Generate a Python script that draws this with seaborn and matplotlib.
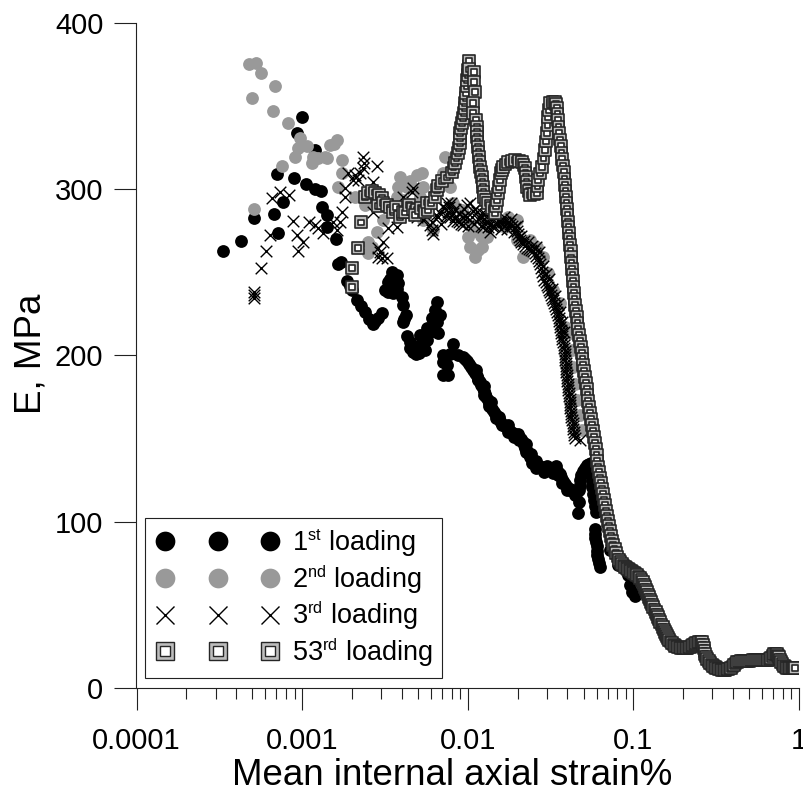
import matplotlib
matplotlib.use('agg')
import matplotlib.pyplot as plt
import numpy as np
import pandas as pd
import seaborn as sns
import matplotlib._mathtext as mathtext_internals
from matplotlib.lines import Line2D
from matplotlib.legend_handler import HandlerTuple, HandlerLine2D
from matplotlib.ticker import FixedLocator, FixedFormatter, NullFormatter

# values as (strain %, E MPa), in loading order
loading_1 = [
    (.000333, 262.8), (.000428, 268.8), (.000512, 282.6), (.000677, 285), (.000715, 273.6), (.000768, 292.2),
    (.000706, 309), (.000893, 306.7), (.001, 343.3), (.00093, 333.7), (.0012, 323.5), (.00106, 303), (.0012, 300),
    (.0013, 298.9), (.00132, 289.2), (.00141, 284.4), (.00141, 277.2), (.0016, 270), (.00165, 255), (.00172, 256.2),
    (.00187, 244.8), (.00195, 241.5), (.002, 239.4), (.00215, 233.3), (.00228, 229.5), (.0024, 226), (.00255, 222),
    (.00268, 218.9), (.00277, 220.5), (.00287, 222.5), (.00304, 225.5), (.00349, 250.2), (.00374, 248.4),
    (.0034, 246), (.0033, 244.2), (.00379, 243.6), (.00317, 239.4), (.0033, 238), (.00354, 237.6), (.00375, 240),
    (.00401, 235.2), (.00407, 230.4), (.00424, 224.3), (.00415, 222), (.00407, 220.1),
    (.00652, 232.2), (.00635, 227.3), (.0068, 224.3), (.00609, 222.5), (.0065, 220), (.00617, 218.3), (.00662, 213.5),
    (.00567, 216.5), (.0059, 214), (.00515, 212.3), (.0054, 210), (.0043, 211.7), (.00567, 209.3), (.0052, 207),
    (.0045, 208), (.00449, 204.5), (.00552, 203.3), (.0047, 202), (.00487, 200.9), (.00494, 205.1), (.0051, 201.5),
    (.00815, 206.9), (.00709, 200.3), (.00709, 196.1), (.0075, 194.3), (.00709, 188.3), (.00761, 188.3),
    (.0078, 201), (.00874, 200.3), (.00937, 199.1), (.00965, 198), (.00992, 196.7), (.0102, 195), (.01047, 193.1),
    (.0108, 191.3), (.0112, 191), (.01107, 189.5), (.0113, 187.7), (.0115, 185), (.01154, 185.9), (.0118, 184.1),
    (.01203, 182.3), (.0123, 180.5), (.0125, 181.5), (.0125, 176.5), (.01254, 178.7), (.0127, 176.9), (.0129, 175),
    (.0132, 173.3), (.0135, 169.5), (.0138, 172), (.01345, 171.5), (.0137, 169.7), (.01402, 167.9), (.0144, 166.1),
    (.0148, 162.5), (.01482, 164.3), (.0152, 162.4), (.0155, 163), (.016, 158), (.01567, 160.6), (.0162, 159.1),
    (.0168, 157.6), (.0174, 156.1), (.0175, 154), (.0175, 158), (.018, 154.6), (.0188, 153.4), (.019, 151),
    (.01958, 152.2), (.02, 153), (.0203, 151), (.0205, 149), (.021, 149.8), (.0215, 148), (.02188, 146.2),
    (.0223, 144.4), (.0225, 142), (.0225, 147), (.0228, 142.6), (.0233, 140.8), (.0238, 139), (.024, 141),
    (.0244, 137.5), (.0245, 135.5), (.0251, 136), (.026, 134.8), (.026, 132.5), (.026, 136.5), (.027, 133.6),
    (.0281, 132.7), (.029, 130), (.0293, 131.8), (.03, 133.5), (.0305, 131.5), (.0318, 131.2), (.0325, 129.5),
    (.0329, 131.2), (.034, 133.5), (.0341, 131.2), (.035, 128), (.0351, 130), (.0361, 128.8), (.0368, 126.7),
    (.037, 123.5), (.0376, 124.6), (.0387, 122.8), (.0398, 121), (.04, 119), (.0412, 119.8), (.0426, 118.6),
    (.0441, 118.3), (.0445, 116), (.0457, 118), (.047, 112), (.0463, 105.4), (.047, 119.2),
    (.0473, 122), (.0476, 125.2), (.0486, 128), (.0497, 130.6), (.0511, 132.5), (.0525, 134.2), (.054, 135),
    (.0556, 135.4), (.056, 132), (.0563, 128.2), (.0563, 124.5), (.0563, 121), (.0571, 117), (.0579, 113.2),
    (.0587, 109.5), (.0596, 106), (.0587, 95.7), (.0587, 93), (.0587, 90.3), (.0595, 88), (.0603, 85.5), (.0603, 82.7),
    (.0603, 80.1), (.0612, 77.5), (.062, 75.3), (.063, 72.9), (.0723, 83.1), (.0809, 74), (.0915, 73.5), (.0929, 68),
    (.0955, 62), (.0982, 57.9), (.1024, 55.5),
]

loading_2 = [
    (.000478, 375.2), (.000527, 375.8), (.000565, 369.8), (.000686, 362), (.000498, 354.7), (.000668, 346.9),
    (.000822, 339.7), (.000512, 288), (.000756, 313.9), (.000975, 330.7), (.00107, 325.9), (.000944, 324.7),
    (.000905, 319.3), (.00116, 319.3), (.00115, 315.7), (.00125, 318.7), (.00138, 319.3), (.00141, 318.7),
    (.00147, 326.5), (.00155, 327), (.00162, 329.5), (.00174, 317.5), (.00174, 309.7), (.00165, 301.3), (.00209, 295.3),
    (.0024, 290.5), (.00283, 274.2), (.0025, 268.2), (.0025, 261.6), (.00265, 265), (.00308, 281.4), (.00349, 287.4),
    (.0039, 307.3), (.00379, 301.3), (.00374, 295.3), (.0043, 301.3), (.00494, 308.5), (.00467, 300.7), (.00407, 293.5),
    (.00445, 305), (.00537, 281.4), (.00617, 275.4), (.0053, 309.7), (.00537, 301.3), (.00515, 295.3), (.0073, 319.3),
    (.00709, 309.7), (.00782, 301.3), (.00815, 291.7), (.00925, 287.4), (.01, 271.2), (.0103, 265), (.01107, 259.2),
    (.0122, 265.2), (.01308, 271.2), (.01237, 281.4), (.0103, 278.5), (.01154, 263.4), (.0109, 275), (.012, 272),
    (.01751, 283.2), (.0168, 277.2), (.01985, 281.4), (.0216, 259.2), (.01985, 269.4), (.0238, 269.4),
    (.0262, 265.2), (.0285, 259.2), (.0305, 249.5), (.0328, 239.4), (.0361, 231.6), (.0387, 217.3), (.0415, 213.5),
    (.0426, 203.3), (.0432, 193.1), (.0444, 182.9), (.0457, 173.3), (.0476, 164.3), (.049, 155.2),
]

loading_3 = [
    (.000512, 238.2), (.000512, 236.4), (.000512, 234.6), (.000565, 252.6), (.000605, 262.8), (.000641, 272.4),
    (.000658, 294.7), (.000736, 298.3), (.000832, 296.5), (.000882, 280.8), (.00093, 272.4), (.00101, 268.2),
    (.000944, 262.8), (.0011, 280.2), (.0012, 278.4), (.00125, 276.6), (.00134, 273.6), (.00154, 280.2), (.00174, 286.2),
    (.00169, 280.2), (.00162, 275.4), (.00233, 319.3), (.00237, 315.7), (.00233, 312.7), (.00283, 313.9), (.00189, 309.7),
    (.00209, 308.5), (.00224, 309.7), (.00203, 305.5), (.00268, 304.3), (.00218, 305.5), (.00182, 300.7), (.00182, 295.3),
    (.00268, 286.2), (.00308, 268.2), (.00287, 264.6), (.00287, 259.2), (.00326, 258.6), (.00304, 258.6), (.00295, 262),
    (.0033, 276.6), (.00374, 277.2), (.00407, 295.3), (.00461, 298.3), (.00467, 300.7), (.00494, 283.2), (.00537, 281.4),
    (.00609, 275.4), (.00592, 278.4), (.0062, 273), (.0068, 285.6), (.0075, 291.7), (.00815, 285.6), (.00609, 280),
    (.00644, 284.4), (.0066, 283), (.0069, 279), (.0071, 290), (.0072, 288.6), (.0074, 284), (.00761, 286.2),
    (.0077, 289), (.0078, 283), (.00794, 291.7), (.0081, 281), (.00837, 283.2), (.0084, 288), (.0086, 281),
    (.0088, 285), (.00887, 280.2), (.0091, 279), (.0093, 283), (.00937, 278.4), (.0095, 288), (.0096, 284),
    (.0099, 283), (.00992, 290.5), (.0101, 278), (.0103, 291.7), (.0106, 283.2), (.0107, 287), (.0109, 279),
    (.011, 288), (.01138, 286.2), (.0115, 282), (.01187, 282.6), (.012, 278), (.0122, 285.6), (.0124, 277),
    (.0125, 282), (.0127, 285), (.0129, 280.2), (.0133, 277), (.01364, 274.2), (.01364, 279), (.0139, 282),
    (.014, 278), (.01442, 277.8), (.0147, 283), (.01503, 279.6), (.0155, 280), (.0158, 276), (.01589, 280.2),
    (.0163, 280), (.0165, 283), (.0168, 280.2), (.0172, 276), (.0174, 279.5), (.018, 279), (.0183, 282), (.0186, 278),
    (.019, 274), (.0193, 277.2), (.0197, 275), (.0199, 278), (.0201, 273), (.0204, 271), (.0207, 269.4), (.021, 272),
    (.0211, 268), (.0216, 267), (.022, 269), (.0222, 265.7), (.0228, 264.6), (.023, 268), (.0234, 264), (.0241, 263.4),
    (.0245, 266), (.0248, 262.5), (.0255, 261.6), (.0258, 265), (.026, 260), (.0266, 258.6), (.0268, 262), (.027, 256.8),
    (.0273, 255), (.0277, 252.6), (.0281, 250.2), (.0285, 254), (.0285, 247.8), (.0289, 245.4), (.0295, 243.9),
    (.0296, 249), (.0301, 242.4), (.0305, 240.9), (.0308, 246), (.031, 239.4), (.0314, 237.9), (.0318, 236.4),
    (.0322, 240), (.0323, 234.8), (.0328, 233.3), (.0332, 231.5), (.0335, 236), (.0337, 229.7), (.0341, 227.9),
    (.0346, 226.1), (.035, 231), (.0351, 224.3), (.0356, 222.5), (.0358, 220.7), (.0361, 218.9), (.0362, 226),
    (.0363, 217.1), (.0366, 215.3), (.0368, 213.5), (.0371, 211.7), (.0372, 220), (.0373, 209.9), (.0376, 208.1),
    (.0379, 206.3), (.0382, 204.5), (.0383, 214), (.0384, 202.7),
    (.0387, 200.9), (.0387, 199.1), (.0387, 197.3), (.039, 195.5), (.0392, 193.7), (.0392, 191.9), (.0392, 190.1),
    (.0395, 188.3), (.0398, 186.5), (.04, 184.7), (.0403, 182.9), (.0403, 181.1), (.0403, 179.3), (.0406, 177.5),
    (.0409, 175.7), (.0412, 173.9), (.0415, 172), (.0415, 170.2), (.0415, 168.4), (.0418, 166.6), (.0421, 164.8),
    (.0423, 163), (.0426, 161.2), (.0429, 159.4), (.0432, 157.6), (.0435, 155.8), (.0438, 154), (.0441, 152.2),
    (.0444, 150.4), (.0476, 149),
]

loading_53 = [
    (.002, 241), (.002, 252.6), (.00218, 264.6), (.00227, 280), (.0024, 295.3), (.0025, 297.7), (.00264, 298.9),
    (.00276, 298), (.00291, 296.5), (.00304, 295), (.00287, 290), (.00308, 291.7), (.00326, 290.5), (.00339, 289),
    (.00354, 286), (.00369, 289.3), (.0039, 283), (.00407, 286.3), (.00418, 286), (.00443, 290.5), (.00467, 288.1),
    (.00494, 287.5), (.0048, 284.4), (.00523, 288.7), (.00552, 286.3), (.00576, 287.5), (.00567, 292), (.006, 291.7),
    (.00635, 295), (.00652, 299.5), (.00662, 302), (.00699, 304.9), (.0075, 307), (.00804, 310), (.0082, 313),
    (.00837, 315.5), (.00855, 318.5), (.00874, 321.7), (.00886, 324.7), (.00899, 327.7), (.00899, 330.7),
    (.00899, 333.7), (.00912, 336.8), (.00925, 339.8), (.00938, 342.8), (.00951, 345.8), (.00958, 348.8),
    (.00965, 351.8), (.00972, 354.8), (.00978, 357.8), (.00985, 361.7), (.00992, 365.5), (.00996, 368.5),
    (.01, 371.6), (.01009, 374.3), (.01018, 377), (.01018, 372), (.0109, 370.4), (.0109, 364.4), (.01107, 358.4),
    (.01077, 351.7), (.01077, 345.7), (.01122, 341.5), (.01138, 337.3), (.01138, 334.3), (.01138, 331.3),
    (.01146, 328.3), (.01154, 325.3), (.01162, 322.3), (.0117, 319.3), (.01178, 316.3), (.01187, 313.3),
    (.01203, 310.3), (.0122, 307.3), (.01228, 304.3), (.01237, 301.3), (.01245, 298.3), (.01254, 295.3),
    (.0129, 293.5), (.01327, 291.7), (.01395, 288.7), (.01462, 285.8), (.01483, 289.6), (.01503, 293.5),
    (.01524, 297.4), (.01545, 301.3), (.01567, 305.5), (.01589, 309.7), (.01612, 311.5), (.01634, 313.3),
    (.0169, 314.8), (.01751, 316.3), (.0184, 316.9), (.0193, 317.5), (.0203, 317), (.0213, 316.3), (.0217, 314.5),
    (.0222, 312.7), (.0223, 310), (.0225, 307.3), (.0227, 304.3), (.0228, 301.3), (.0233, 298.9), (.0238, 296.5),
    (.025, 297.1), (.0262, 297.7), (.0264, 301.6), (.0266, 305.5), (.0274, 309.4), (.0281, 313.3), (.0287, 318.4),
    (.0293, 323.5), (.0297, 328.6), (.0301, 333.7), (.0303, 338.5), (.0305, 343.4), (.031, 347.5), (.0314, 351.7),
    (.0325, 352.5), (.0337, 352.5), (.0342, 351), (.0346, 348.7), (.0348, 345), (.0351, 341.5), (.0353, 337.5),
    (.0356, 333.7), (.0361, 329.8), (.0366, 325.9), (.0368, 322), (.0371, 318), (.0376, 314.2), (.0382, 310.3),
    (.0384, 306.4), (.0387, 302.5), (.0389, 298.9), (.0392, 295.3), (.0395, 291.6), (.0398, 288), (.04, 284.3),
    (.0403, 280.5), (.0406, 277.2), (.0409, 273.8), (.0412, 270.1), (.0415, 266.4), (.0418, 262.7), (.0421, 259),
    (.0423, 255.5), (.0426, 252), (.0429, 248.3), (.0432, 244.7), (.0435, 241.1), (.0438, 237.5), (.0441, 234),
    (.0444, 230.4), (.045, 226.7), (.0457, 223), (.046, 219.5), (.0463, 216), (.047, 212.3), (.0476, 208.7),
    (.0483, 205.1), (.049, 201.5), (.0493, 197.9), (.0497, 194.3), (.0504, 190.6), (.0511, 187), (.0518, 183.4),
    (.0525, 179.9), (.0529, 176.2), (.0533, 172.6), (.054, 169), (.0548, 165.4), (.0555, 161.8), (.0563, 158.2),
    (.0571, 154.6), (.0579, 151), (.0587, 147.4), (.0596, 143.8), (.06, 140.2), (.0603, 136.6), (.0611, 133.3),
    (.062, 130), (.0629, 126.7), (.0638, 123.4), (.0647, 120.1), (.0656, 116.8), (.0665, 113.5), (.0675, 110.2),
    (.0684, 106.8), (.0694, 103.5), (.0704, 100.5), (.0714, 97.5), (.0724, 94.5), (.0734, 91.5), (.0744, 88.8),
    (.0755, 86.1), (.0771, 83.7), (.0788, 81.3), (.0803, 79.2), (.0819, 77.1), (.0837, 75.9), (.0855, 74.7),
    (.0873, 73.8), (.0892, 72.9), (.091, 72.3), (.0929, 71.7), (.0948, 71.1), (.0967, 70.5), (.0988, 69.9),
    (.101, 69.3), (.1031, 68.7), (.1053, 68.1), (.1075, 67.2), (.1098, 66.3), (.112, 65.1), (.1144, 63.9),
    (.116, 62.4), (.1177, 60.9), (.1193, 59.4), (.121, 57.9), (.1227, 56.4), (.1244, 54.9), (.1261, 53.4),
    (.1279, 51.9), (.1297, 50.4), (.1315, 48.9), (.1343, 47.4), (.1371, 45.9), (.139, 44.4), (.141, 42.9),
    (.143, 41.4), (.145, 39.9), (.148, 38.4), (.1512, 36.9), (.1533, 35.4), (.1554, 33.8), (.1575, 32.6),
    (.1597, 31.4), (.162, 30.2), (.1643, 29), (.1678, 28.1), (.1713, 27.2), (.175, 26.3), (.1786, 25.4),
    (.1824, 25.1), (.1862, 24.8), (.19, 24.5), (.1941, 24.2), (.198, 24.2), (.2024, 24.2), (.207, 24.2), (.211, 24.2),
    (.215, 24.5), (.22, 24.8), (.225, 25.4), (.2295, 26), (.234, 26.6), (.239, 27.2), (.244, 27.5), (.249, 27.8),
    (.254, 27.8), (.26, 27.8), (.2635, 26), (.267, 24.2), (.269, 22.4), (.271, 20.6), (.275, 19.1), (.279, 17.6),
    (.285, 16.4), (.2905, 15.2), (.297, 14.3), (.303, 13.4), (.31, 12.8), (.316, 12.2), (.323, 11.9), (.33, 11.6),
    (.337, 11.3), (.344, 11), (.351, 11), (.358, 11), (.365, 11.3), (.373, 11.6), (.381, 11.9), (.389, 12.2),
    (.397, 13.1), (.406, 14), (.414, 14.9), (.423, 15.8), (.435, 16.1), (.447, 16.4), (.46, 16.4), (.473, 16.4),
    (.486, 16.4), (.5, 16.4), (.514, 16.7), (.529, 17), (.544, 17), (.559, 17), (.575, 17), (.591, 17), (.608, 17),
    (.625, 17), (.638, 17), (.652, 17), (.665, 17.6), (.679, 18.2), (.693, 19.4), (.707, 20.6), (.722, 20.6),
    (.738, 20.6), (.748, 19.7), (.758, 18.8), (.768, 17.3), (.779, 15.8), (.795, 14.6), (.812, 13.4), (.83, 12.8),
    (.847, 12.2), (.865, 12.2), (.883, 12.2), (.9, 12.2), (.92, 12.2), (.933, 12.2), (.946, 12.2),
]

x_ticks = [0.0001, 0.001, 0.01, 0.1, 1]
x_tick_labels = ['0.0001', '0.001', '0.01', '0.1', '1']
y_ticks = [0, 100, 200, 300, 400]
legend_labels = ['1$^{\\mathrm{st}}$ loading', '2$^{\\mathrm{nd}}$ loading',
                 '3$^{\\mathrm{rd}}$ loading', '53$^{\\mathrm{rd}}$ loading']

sns.set_theme(style='white')
plt.rcParams['font.family'] = ['Liberation Sans', 'DejaVu Sans']
plt.rcParams['mathtext.fontset'] = 'custom'
plt.rcParams['mathtext.rm'] = 'Liberation Sans'
# superscripts in the legend are smaller than the mathtext default
mathtext_internals.SHRINK_FACTOR = 0.6

BLACK = '#000000'
GREY = '#999999'
SQUARE_FILL = '#bdbdbd'
SQUARE_EDGE = '#262626'

fig = plt.figure(figsize=(8.04, 7.95), dpi=100)
ax = fig.add_axes([136.5 / 804, (795 - 688.3) / 795, 662.5 / 804, 665.6 / 795])

strain_1, e_1 = zip(*loading_1)
strain_2, e_2 = zip(*loading_2)
strain_3, e_3 = zip(*loading_3)
strain_53, e_53 = zip(*loading_53)

sns.scatterplot(x=strain_1, y=e_1, ax=ax, color=BLACK, marker='o', s=85, linewidth=0, legend=False)
sns.scatterplot(x=strain_2, y=e_2, ax=ax, color=GREY, marker='o', s=85, linewidth=0, legend=False)
ax.scatter(strain_3, e_3, color=BLACK, marker='x', s=70, linewidth=1.0, zorder=3)

# each 53rd point is an outer grey square with a white one inside, kept in draw order
squares = pd.DataFrame({
    'strain': np.repeat(strain_53, 2),
    'E': np.repeat(e_53, 2),
    'layer': ['outer', 'inner'] * len(strain_53),
})
sns.scatterplot(data=squares, x='strain', y='E', hue='layer', size='layer', ax=ax,
                palette={'outer': SQUARE_FILL, 'inner': '#ffffff'},
                sizes={'outer': 72, 'inner': 16},
                marker='s', edgecolor=SQUARE_EDGE, linewidth=1.2, legend=False, zorder=4)

ax.set_xscale('log')
ax.set_xlim(0.0001, 1)
ax.set_ylim(0, 400)
sns.despine(ax=ax)
for side in ['left', 'bottom']:
    ax.spines[side].set_linewidth(0.8)
    ax.spines[side].set_color('#222222')

ax.xaxis.set_major_locator(FixedLocator(x_ticks))
ax.xaxis.set_major_formatter(FixedFormatter(x_tick_labels))
minor = [m * t for t in x_ticks[:-1] for m in range(2, 10)]
ax.xaxis.set_minor_locator(FixedLocator(minor))
ax.xaxis.set_minor_formatter(NullFormatter())
ax.set_yticks(y_ticks)
ax.tick_params(axis='x', which='major', length=15.8, width=0.8, color='#222222', labelsize=21,
               pad=12, labelcolor=BLACK, bottom=True)
ax.tick_params(axis='x', which='minor', length=7.9, width=0.8, color='#222222', bottom=True)
ax.tick_params(axis='y', which='major', length=15.8, width=0.8, color='#222222', labelsize=21,
               pad=8, labelcolor=BLACK, left=True)
ax.grid(False)

ax.set_xlabel('Mean internal axial strain%', fontsize=26.4, color=BLACK)
ax.xaxis.set_label_coords(0.476, -0.104)
ax.set_ylabel('E, MPa', fontsize=26.5, color=BLACK)
ax.yaxis.set_label_coords(-0.133, 0.502)

marker_handler = HandlerLine2D(marker_pad=0.41, numpoints=3)
handle_1 = Line2D([], [], linestyle='none', marker='o', color=BLACK, markersize=14.2, markeredgewidth=0)
handle_2 = Line2D([], [], linestyle='none', marker='o', color=GREY, markersize=14.2, markeredgewidth=0)
handle_3 = Line2D([], [], linestyle='none', marker='x', color=BLACK, markersize=13.5, markeredgewidth=1.0)
handle_53 = (Line2D([], [], linestyle='none', marker='s', markerfacecolor=SQUARE_FILL,
                    markeredgecolor=SQUARE_EDGE, markersize=13, markeredgewidth=1.0),
             Line2D([], [], linestyle='none', marker='s', markerfacecolor='#ffffff',
                    markeredgecolor=SQUARE_EDGE, markersize=6.5, markeredgewidth=1.0))
leg = ax.legend([handle_1, handle_2, handle_3, handle_53], legend_labels,
                handler_map={tuple: HandlerTuple(ndivide=1, pad=0), Line2D: marker_handler},
                numpoints=3, fontsize=19.5, loc='lower left', bbox_to_anchor=(0.0124, 0.0155),
                borderaxespad=0, borderpad=0.34, handlelength=4.7, handletextpad=0.4,
                labelspacing=0.15, fancybox=False, framealpha=1, edgecolor='#222222',
                labelcolor=BLACK)
leg.get_frame().set_linewidth(0.8)
leg.set_zorder(6)

plt.savefig('out.png', dpi=100)
plt.close()
